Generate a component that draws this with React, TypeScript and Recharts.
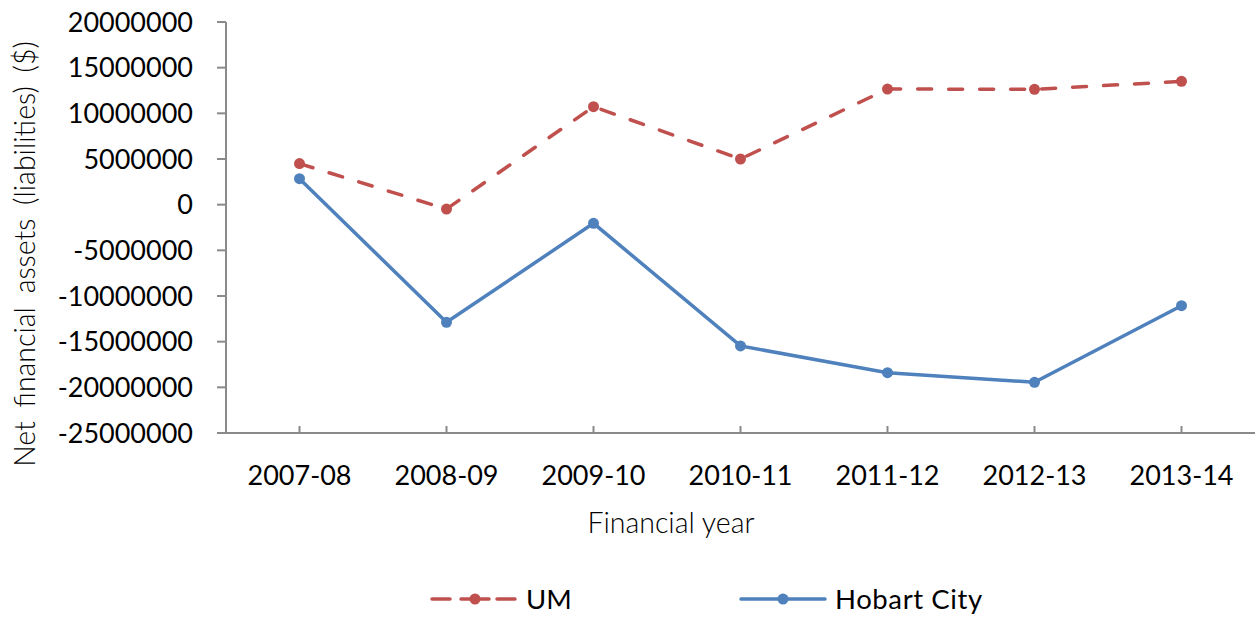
import React from 'react';
import { LineChart, Line, XAxis, YAxis, Legend, Label } from 'recharts';

const categories = ['2007-08', '2008-09', '2009-10', '2010-11', '2011-12', '2012-13', '2013-14'];
const umValues = [4500000, -480000, 10730000, 5000000, 12660000, 12630000, 13500000];
const hobartValues = [2850000, -12880000, -2040000, -15470000, -18400000, -19450000, -11060000];
const yTicks = [-25000000, -20000000, -15000000, -10000000, -5000000, 0, 5000000, 10000000, 15000000, 20000000];

const data = categories.map((c, i) => ({ year: c, UM: umValues[i], Hobart: hobartValues[i] }));

const RED = '#C0504D';
const BLUE = '#4F81BD';
const AXIS = '#8A8A8A';
const NUM_FONT = 'Lato, "Open Sans", sans-serif';
const TITLE_FONT = 'Lato, "Open Sans", sans-serif';

const LegendContent = () => (
  <svg width={1258} height={40} style={{ display: 'block' }}>
    <g>
      <line x1={432} y1={20} x2={450} y2={20} stroke={RED} strokeWidth={3.5} strokeLinecap="round" />
      <circle cx={475} cy={20} r={5.5} fill={RED} />
      <line x1={461} y1={20} x2={489} y2={20} stroke={RED} strokeWidth={3.5} strokeLinecap="round" />
      <line x1={497} y1={20} x2={515} y2={20} stroke={RED} strokeWidth={3.5} strokeLinecap="round" />
      <text x={526} y={30} fontFamily={NUM_FONT} fontSize={27.5} fill="#000">UM</text>
    </g>
    <g>
      <line x1={741} y1={20} x2={825} y2={20} stroke={BLUE} strokeWidth={3.5} strokeLinecap="round" />
      <circle cx={783} cy={20} r={5.5} fill={BLUE} />
      <text x={835} y={30} fontFamily={NUM_FONT} fontSize={27.5} fill="#000" style={{ letterSpacing: 0.6 }}>Hobart City</text>
    </g>
  </svg>
);

export default function App() {
  return (
    <div style={{ position: 'absolute', left: 0, top: 0, width: 1258, height: 619, background: '#fff' }}>
      <LineChart width={1258} height={619} data={data} margin={{ top: 22, right: 3, bottom: 0, left: 0 }}>
        <XAxis
          dataKey="year"
          scale="band"
          height={146}
          stroke={AXIS}
          strokeWidth={2}
          tickLine={{ stroke: AXIS, strokeWidth: 2 }}
          tickSize={-7}
          tickMargin={40}
          tick={{ fill: '#000', fontFamily: NUM_FONT, fontSize: 27 }}
          interval={0}
        >
          <Label
            content={() => (
              <text x={671} y={533} textAnchor="middle" fontFamily={TITLE_FONT} fontWeight={300} fontSize={28.5} fill="#000">
                Financial year
              </text>
            )}
          />
        </XAxis>
        <YAxis
          width={226}
          domain={[-25000000, 20000000]}
          ticks={yTicks}
          interval={0}
          stroke={AXIS}
          strokeWidth={2}
          tickLine={{ stroke: AXIS, strokeWidth: 2 }}
          tickSize={9}
          tickMargin={24}
          tick={{ fill: '#000', fontFamily: NUM_FONT, fontSize: 27 }}
        >
          <Label
            content={() => (
              <text
                transform="translate(35,254) rotate(-90)"
                textAnchor="middle"
                fontFamily={TITLE_FONT}
                fontWeight={300}
                fontSize={28.5}
                fill="#000"
                style={{ wordSpacing: 6 }}
              >
                Net financial assets (liabilities) ($)
              </text>
            )}
          />
        </YAxis>
        <Legend verticalAlign="bottom" height={40} content={LegendContent} wrapperStyle={{ left: 0, bottom: 0, width: 1258, height: 40 }} />
        <Line
          type="linear"
          dataKey="UM"
          name="UM"
          stroke={RED}
          strokeWidth={3.5}
          strokeDasharray="14 17"
          strokeLinecap="round"
          dot={{ r: 5.5, fill: RED, stroke: 'none' }}
          isAnimationActive={false}
        />
        <Line
          type="linear"
          dataKey="Hobart"
          name="Hobart City"
          stroke={BLUE}
          strokeWidth={3.5}
          dot={{ r: 5.5, fill: BLUE, stroke: 'none' }}
          isAnimationActive={false}
        />
      </LineChart>
    </div>
  );
}
